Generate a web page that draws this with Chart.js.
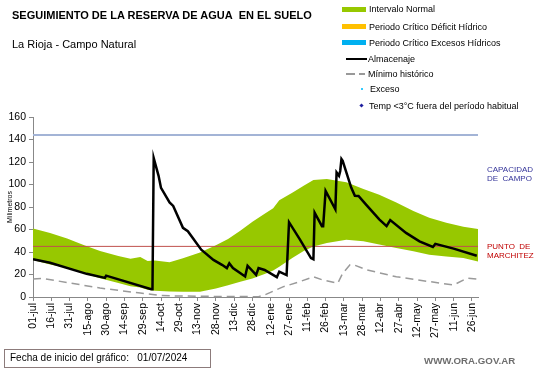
<!DOCTYPE html>
<html>
<head>
<meta charset="utf-8">
<script src="https://cdn.jsdelivr.net/npm/chart.js@4"></script>
<style>
  body { margin: 0; background: #fff; }
  #wrap { position: relative; width: 541px; height: 368px; overflow: hidden; font-family: Arial, "Liberation Sans", sans-serif; }
  #wrap canvas { position: absolute; left: 0; top: 0; }
  .t { position: absolute; white-space: nowrap; transform: translateY(-50%); line-height: 1; }
  .sw { position: absolute; }
  .leg { font-size: 9px; color: #000; }
</style>
</head>
<body>
<div id="wrap">
  <canvas id="chart" width="541" height="368"></canvas>

  <div class="t" style="left:12px; top:15px; font-size:11px; font-weight:bold;">SEGUIMIENTO DE LA RESERVA DE AGUA&nbsp; EN EL SUELO</div>
  <div class="t" style="left:12px; top:44px; font-size:11px;">La Rioja - Campo Natural</div>

  <!-- legend -->
  <div class="sw" style="left:342px; top:7px; width:24px; height:5px; background:#97C800;"></div>
  <div class="t leg" style="left:369px; top:9px;">Intervalo Normal</div>
  <div class="sw" style="left:342px; top:24px; width:24px; height:5px; background:#FFC000;"></div>
  <div class="t leg" style="left:369px; top:27px;">Periodo Crítico Déficit Hídrico</div>
  <div class="sw" style="left:342px; top:40px; width:24px; height:5px; background:#00B0F0;"></div>
  <div class="t leg" style="left:369px; top:43px;">Periodo Crítico Excesos Hídricos</div>
  <div class="sw" style="left:346px; top:58px; width:21px; height:2px; background:#000;"></div>
  <div class="t leg" style="left:368px; top:59px;">Almacenaje</div>
  <div class="sw" style="left:346px; top:73px; width:9px; height:1.5px; background:#999;"></div>
  <div class="sw" style="left:359px; top:73px; width:6px; height:1.5px; background:#999;"></div>
  <div class="t leg" style="left:368px; top:74px;">Mínimo histórico</div>
  <div class="sw" style="left:361px; top:88px; width:2px; height:2px; background:#33CCFF;"></div>
  <div class="t leg" style="left:370px; top:89px;">Exceso</div>
  <div class="sw" style="left:360px; top:104px; width:3px; height:3px; background:#1F1F9F; transform:rotate(45deg);"></div>
  <div class="t leg" style="left:369px; top:106px;">Temp &lt;3°C fuera del período habitual</div>

  <!-- right side labels -->
  <div class="t" style="left:487px; top:170px; font-size:8px; color:#333399;">CAPACIDAD</div>
  <div class="t" style="left:487px; top:179px; font-size:8px; color:#333399;">DE&nbsp; CAMPO</div>
  <div class="t" style="left:487px; top:247px; font-size:8px; color:#C00000;">PUNTO&nbsp; DE</div>
  <div class="t" style="left:487px; top:256px; font-size:8px; color:#C00000;">MARCHITEZ</div>

  <!-- footer -->
  <div style="position:absolute; left:4px; top:349px; width:207px; height:19px; border:1px solid #8C7B7B; box-sizing:border-box;"></div>
  <div class="t" style="left:10px; top:358px; font-size:10px; color:#000;">Fecha de inicio del gráfico:&nbsp;&nbsp; 01/07/2024</div>
  <div class="t" style="left:424px; top:361px; font-size:9.7px; font-weight:bold; color:#6E6E6E;">WWW.ORA.GOV.AR</div>
</div>

<script>
// x axis: days since 01-jul, labelled every 15 days
const xTickLabels = ['01-jul', '16-jul', '31-jul', '15-ago', '30-ago', '14-sep', '29-sep', '14-oct', '29-oct',
  '13-nov', '28-nov', '13-dic', '28-dic', '12-ene', '27-ene', '11-feb', '26-feb', '13-mar', '28-mar',
  '12-abr', '27-abr', '12-may', '27-may', '11-jun', '26-jun'];

// Almacenaje (mm)
const storageDays = [0, 14, 44, 59, 60, 97, 98, 99, 103, 105, 112, 115, 123, 127, 138, 148,
  155, 159, 161, 164, 174, 176, 183, 185, 190, 200, 202, 208, 210, 219, 228, 230,
  231, 237, 238, 240, 248, 249, 251, 252, 253, 254, 261, 264, 267, 273, 284, 290,
  293, 306, 317, 328, 330, 345, 364];
const storageMm = [33.5, 30.5, 20.6, 17, 19, 7, 7, 123.5, 107.7, 97, 84, 81, 61.5, 58.5, 42, 33,
  28.6, 25.7, 30, 25.7, 18.2, 27.8, 19.7, 25.7, 24, 17.6, 22.6, 19.5, 66.5, 51, 34.6, 33.5,
  75, 63, 63, 94.3, 78, 110.7, 107.7, 112, 122.6, 121, 97.3, 90, 89.8, 82.4, 69, 63,
  68.4, 57, 49.5, 44.5, 47.2, 43, 36.7];

// Intervalo normal (band)
const normalDays = [0, 14, 28, 42, 55, 70, 80, 88, 94, 100, 112, 123, 137, 150, 160, 170, 180,
  190, 197, 202, 213, 222, 230, 241, 257, 271, 284, 298, 312, 325, 339, 353, 365];
const normalUpper = [61, 57, 52, 46, 41, 36.5, 34, 35.5, 32, 32.5, 31, 34.5, 39.5, 46, 51.5, 59, 67,
  74, 79, 86, 93, 99, 104, 105, 102, 96, 91, 84, 76.5, 70.5, 66, 62.5, 60.5];
const normalLower = [33, 29, 25.7, 21, 16.7, 12.5, 9.5, 8.5, 6.5, 5.5, 5, 4.7, 4.7, 7.5, 10.5, 13.5, 16.5,
  20.5, 23.5, 27, 35, 41, 45, 48, 51, 49.5, 46.6, 43.6, 40.6, 37.6, 36, 34.6, 31.6];

// Minimo historico
const minDays = [0, 8, 30, 55, 88, 104, 115, 150, 185, 190, 205, 219, 230, 238, 250, 254,
  260, 263, 274, 298, 325, 345, 356, 364];
const minMm = [16, 16.5, 12.5, 8, 3.5, 1.5, 1, 0.5, 0.3, 1.8, 9, 13.7, 18, 15, 12.3, 21,
  28.6, 28.6, 24, 18, 13.7, 10.7, 16.7, 16];

const fieldCapacity = 144;
const wiltingPoint = 45;

const pts = (xs, ys) => xs.map((x, i) => ({ x: x, y: ys[i] }));

Chart.defaults.font.family = 'Arial, "Liberation Sans", sans-serif';

new Chart(document.getElementById('chart'), {
  type: 'line',
  data: {
    datasets: [
      { label: 'Almacenaje', data: pts(storageDays, storageMm), borderColor: '#000', borderWidth: 2.5, pointRadius: 0, fill: false },
      { label: 'Mínimo histórico', data: pts(minDays, minMm), borderColor: '#9A9A9A', borderWidth: 1.5, borderDash: [8, 5], pointRadius: 0, fill: false },
      { label: 'Capacidad', data: pts([0, 365], [fieldCapacity, fieldCapacity]), borderColor: '#A3B4D6', borderWidth: 2, pointRadius: 0, fill: false },
      { label: 'Marchitez', data: pts([0, 365], [wiltingPoint, wiltingPoint]), borderColor: '#C0504D', borderWidth: 1, pointRadius: 0, fill: false },
      { label: 'Intervalo Normal', data: pts(normalDays, normalUpper), borderWidth: 0, borderColor: '#97C800', backgroundColor: '#97C800', pointRadius: 0, fill: '+1' },
      { label: 'lower', data: pts(normalDays, normalLower), borderWidth: 0, borderColor: '#97C800', pointRadius: 0, fill: false }
    ]
  },
  options: {
    responsive: false,
    animation: false,
    layout: { padding: { left: 0, right: 63, top: 117, bottom: 0 } },
    plugins: { legend: { display: false }, tooltip: { enabled: false } },
    scales: {
      x: {
        type: 'linear', min: 0, max: 365,
        afterFit: (s) => { s.height = 71; },
        border: { color: '#888' },
        grid: { drawOnChartArea: false, drawTicks: true, tickLength: 4, color: '#888' },
        ticks: {
          stepSize: 15, includeBounds: false, autoSkip: false, maxRotation: 90, minRotation: 90,
          font: { size: 10.5 }, color: '#000', padding: 2,
          callback: (v) => xTickLabels[Math.round(v / 15)]
        }
      },
      y: {
        min: 0, max: 160,
        afterFit: (s) => { s.width = 33; },
        border: { color: '#888' },
        grid: { drawOnChartArea: false, drawTicks: true, tickLength: 4, color: '#888' },
        ticks: { stepSize: 20, font: { size: 10.5 }, color: '#000', padding: 3 },
        title: { display: true, text: 'Milimetros', font: { size: 7 }, color: '#000', padding: { top: 6, bottom: 0 } }
      }
    }
  }
});
</script>
</body>
</html>
